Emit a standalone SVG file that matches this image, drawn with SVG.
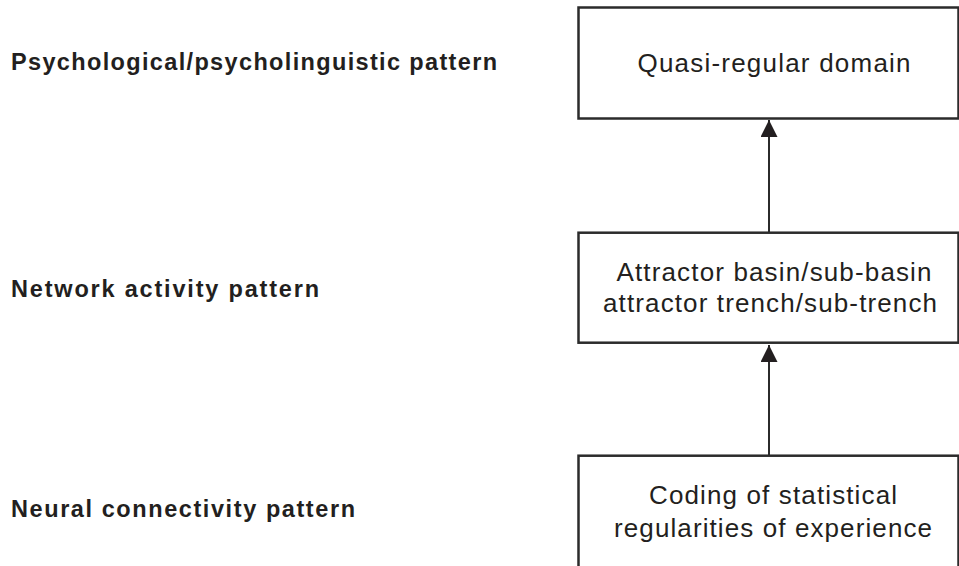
<svg xmlns="http://www.w3.org/2000/svg" width="959" height="566" viewBox="0 0 959 566">
<defs>
<style>
.lbl{font-family:"Liberation Sans",Arial,sans-serif;font-weight:bold;font-size:23.5px;fill:#231f20}
.box{fill:#fff;stroke:#2b2b2b;stroke-width:2.5}
.txt{font-family:"Liberation Sans",Arial,sans-serif;font-size:26px;fill:#231f20;text-anchor:middle}
.con{stroke:#2b2b2b;stroke-width:2;fill:none}
</style>
<marker id="arr" markerWidth="18" markerHeight="18" refX="17" refY="8.5" orient="auto" markerUnits="userSpaceOnUse">
<path d="M0,0 L17,8.5 L0,17 Z" fill="#231f20"/>
</marker>
</defs>
<rect width="959" height="566" fill="#fff"/>
<text class="lbl" x="11" y="69.5" textLength="486" lengthAdjust="spacing">Psychological/psycholinguistic pattern</text>
<text class="lbl" x="11" y="297" textLength="308" lengthAdjust="spacing">Network activity pattern</text>
<text class="lbl" x="11" y="517" textLength="344" lengthAdjust="spacing">Neural connectivity pattern</text>
<g id="node-quasi">
<rect class="box" x="578.5" y="7.5" width="380" height="111"/>
<text class="txt" x="774" y="72" textLength="273" lengthAdjust="spacing">Quasi-regular domain</text>
</g>
<g id="node-attractor">
<rect class="box" x="578.5" y="232.7" width="380" height="110"/>
<text class="txt" x="774" y="281" textLength="315" lengthAdjust="spacing">Attractor basin/sub-basin</text>
<text class="txt" x="770" y="312" textLength="334" lengthAdjust="spacing">attractor trench/sub-trench</text>
</g>
<g id="node-coding">
<rect class="box" x="578.5" y="455.7" width="380" height="120"/>
<text class="txt" x="773" y="504" textLength="248" lengthAdjust="spacing">Coding of statistical</text>
<text class="txt" x="773" y="537" textLength="318" lengthAdjust="spacing">regularities of experience</text>
</g>
<g id="connectors">
<line class="con" x1="769" y1="455" x2="769" y2="345" marker-end="url(#arr)"/>
<line class="con" x1="769" y1="232" x2="769" y2="120" marker-end="url(#arr)"/>
</g>
</svg>
